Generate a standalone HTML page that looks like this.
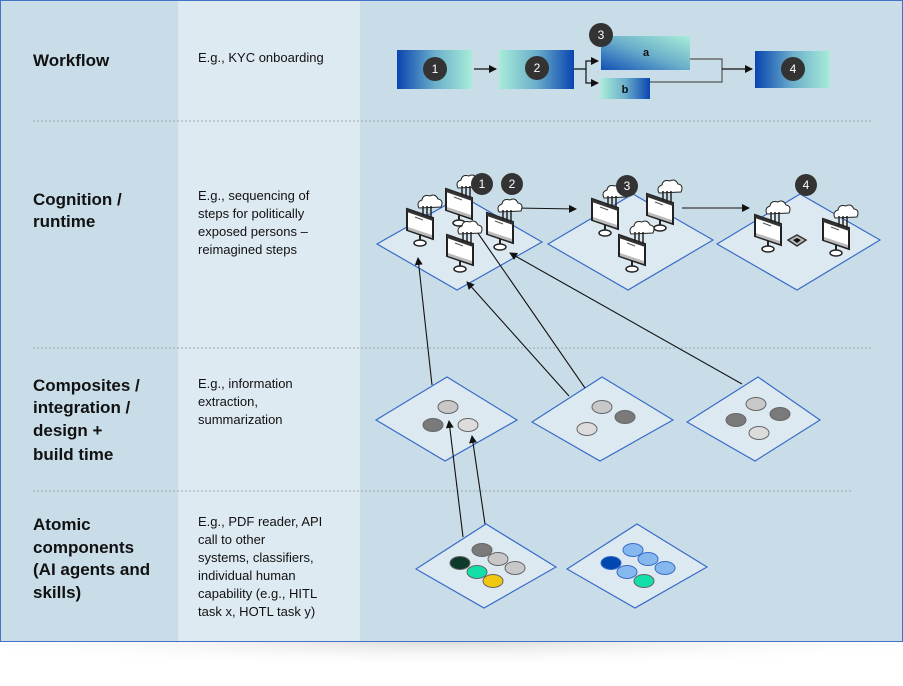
<!DOCTYPE html>
<html><head><meta charset="utf-8"><style>
html,body{margin:0;padding:0;background:#fff;}
svg{display:block;font-family:"Liberation Sans",Arial,sans-serif;}
</style></head><body>
<svg width="903" height="686" viewBox="0 0 903 686" xmlns="http://www.w3.org/2000/svg">
<defs>
<linearGradient id="gL" x1="0" x2="1" y1="0" y2="0"><stop offset="0" stop-color="#0a45b0"/><stop offset="0.5" stop-color="#6aaecb"/><stop offset="1" stop-color="#a8ecd8"/></linearGradient>
<linearGradient id="gR" x1="0" x2="1" y1="0" y2="0"><stop offset="0" stop-color="#a8ecd8"/><stop offset="0.5" stop-color="#6aaecb"/><stop offset="1" stop-color="#0a45b0"/></linearGradient>
<linearGradient id="gA" x1="0" x2="1" y1="1" y2="0"><stop offset="0" stop-color="#1050b5"/><stop offset="0.5" stop-color="#6aaecb"/><stop offset="1" stop-color="#a8ecd8"/></linearGradient>
<radialGradient id="sh" cx="0.5" cy="0" r="0.6"><stop offset="0" stop-color="#d8d8d8"/><stop offset="1" stop-color="#fff" stop-opacity="0"/></radialGradient>
<marker id="ar" markerWidth="8" markerHeight="8" refX="7" refY="4" orient="auto" markerUnits="userSpaceOnUse"><path d="M0,0 L8,4 L0,8 z" fill="#111"/></marker>
<g id="mon">
  <path d="M-1,-14 q-3,-6 3,-8 q1,-6 8,-4 q5,-3 8,3 q6,1 3,8 z" fill="#fff" stroke="#222" stroke-width="1"/>
  <path d="M-13,-13 L13,-4 L13,17 L-13,8 z" fill="#fff" stroke="#222" stroke-width="2"/>
  <path d="M-13,-13 L13,-4 L13,-1 L-13,-10 z" fill="#333"/>
  <path d="M-12,5 L12,13 L12,16 L-12,8 z" fill="#bbb"/>
  <line x1="3" y1="-16" x2="3" y2="-6" stroke="#222" stroke-width="1.5"/>
  <line x1="7" y1="-16" x2="7" y2="-5" stroke="#222" stroke-width="1.5"/>
  <line x1="11" y1="-16" x2="11" y2="-4" stroke="#222" stroke-width="1.5"/>
  <line x1="-5" y1="-5" x2="3" y2="-2" stroke="#555" stroke-width="1"/>
  <line x1="0" y1="13" x2="0" y2="19" stroke="#222" stroke-width="2"/>
  <ellipse cx="0" cy="21" rx="6" ry="3" fill="#fff" stroke="#222" stroke-width="1.5"/>
</g>
</defs>
<rect x="0" y="640" width="903" height="46" fill="url(#sh)"/>
<rect x="0.5" y="0.5" width="902" height="641" fill="#c9dde8" stroke="#4472c4"/>
<rect x="178" y="1" width="182" height="640" fill="#deeaf2"/>
<g stroke="#9aa6ae" stroke-width="1" stroke-dasharray="2,2">
<line x1="33" y1="121" x2="872" y2="121"/><line x1="33" y1="348" x2="872" y2="348"/><line x1="33" y1="491" x2="852" y2="491"/>
</g>
<g font-size="17" font-weight="bold" fill="#111">
<text x="33" y="66">Workflow</text>
<text x="33" y="205">Cognition /</text><text x="33" y="227">runtime</text>
<text x="33" y="391">Composites /</text><text x="33" y="413">integration /</text><text x="33" y="436">design +</text><text x="33" y="460">build time</text>
<text x="33" y="530">Atomic</text><text x="33" y="553">components</text><text x="33" y="575">(AI agents and</text><text x="33" y="598">skills)</text>
</g>
<g font-size="13" fill="#111">
<text x="198" y="62">E.g., KYC onboarding</text>
<text x="198" y="200">E.g., sequencing of</text><text x="198" y="218">steps for politically</text><text x="198" y="236">exposed persons –</text><text x="198" y="254">reimagined steps</text>
<text x="198" y="388">E.g., information</text><text x="198" y="406">extraction,</text><text x="198" y="424">summarization</text>
<text x="198" y="526">E.g., PDF reader, API</text><text x="198" y="544">call to other</text><text x="198" y="562">systems, classifiers,</text><text x="198" y="580">individual human</text><text x="198" y="598">capability (e.g., HITL</text><text x="198" y="616">task x, HOTL task y)</text>
</g>
<!-- workflow -->
<rect x="397" y="50" width="75" height="39" fill="url(#gL)"/>
<rect x="499" y="50" width="75" height="39" fill="url(#gR)"/>
<rect x="601" y="36" width="89" height="34" fill="url(#gA)"/>
<rect x="601" y="78" width="49" height="21" fill="url(#gR)"/>
<rect x="755" y="51" width="75" height="37" fill="url(#gL)"/>
<g stroke="#111" stroke-width="1.2" fill="none">
<line x1="474" y1="69" x2="496" y2="69" marker-end="url(#ar)"/>
<polyline points="574,69 586,69 586,61 598,61" marker-end="url(#ar)"/>
<polyline points="586,69 586,83 598,83" marker-end="url(#ar)"/>
<polyline points="690,59 722,59 722,82 650,82" stroke="#555"/>
<line x1="722" y1="69" x2="752" y2="69" marker-end="url(#ar)"/>
</g>
<g fill="#333"><circle cx="435" cy="69" r="12"/><circle cx="537" cy="68" r="12"/><circle cx="601" cy="35" r="12"/><circle cx="793" cy="69" r="12"/></g>
<g fill="#fff" font-size="12" text-anchor="middle"><text x="435" y="73">1</text><text x="537" y="72">2</text><text x="601" y="39">3</text><text x="793" y="73">4</text></g>
<g font-size="11" font-weight="bold" fill="#111" text-anchor="middle"><text x="646" y="56">a</text><text x="625" y="93">b</text></g>
<!-- diamonds -->
<g fill="#dce9f1" stroke="#3a6cc8" stroke-width="1.2">
<polygon points="377,244 462,196 542,242 457,290"/>
<polygon points="548,244 633,194 713,240 628,290"/>
<polygon points="717,244 800,194 880,240 797,290"/>
<polygon points="376,420 447,377 517,420 445,461"/>
<polygon points="532,422 602,377 673,420 600,461"/>
<polygon points="687,422 758,377 820,420 755,461"/>
<polygon points="416,569 486,524 556,567 484,608"/>
<polygon points="567,569 637,524 707,567 635,608"/>
</g>
<!-- arrows -->
<g stroke="#111" stroke-width="1.1" fill="none">
<line x1="516" y1="208" x2="576" y2="209" marker-end="url(#ar)"/>
<line x1="682" y1="208" x2="749" y2="208" marker-end="url(#ar)"/>
<line x1="432" y1="385" x2="418" y2="258" marker-end="url(#ar)"/>
<line x1="569" y1="396" x2="467" y2="282" marker-end="url(#ar)"/>
<line x1="585" y1="388" x2="473" y2="226" marker-end="url(#ar)"/>
<line x1="742" y1="384" x2="510" y2="253" marker-end="url(#ar)"/>
<line x1="463" y1="537" x2="449" y2="421" marker-end="url(#ar)"/>
<line x1="485" y1="524" x2="472" y2="436" marker-end="url(#ar)"/>
</g>
<!-- monitors -->
<use href="#mon" x="420" y="222"/>
<use href="#mon" x="459" y="202"/>
<use href="#mon" x="500" y="226"/>
<use href="#mon" x="460" y="248"/>
<use href="#mon" x="605" y="212"/>
<use href="#mon" x="660" y="207"/>
<use href="#mon" x="632" y="248"/>
<use href="#mon" x="768" y="228"/>
<use href="#mon" x="836" y="232"/>
<path d="M788,240 L797,235 L806,240 L797,246 z" fill="#bbb" stroke="#333" stroke-width="1.5"/>
<path d="M793,240 L797,238 L801,240 L797,243 z" fill="#111"/>
<g fill="#333"><circle cx="482" cy="184" r="11"/><circle cx="512" cy="184" r="11"/><circle cx="627" cy="186" r="11"/><circle cx="806" cy="185" r="11"/></g>
<g fill="#fff" font-size="12" text-anchor="middle"><text x="482" y="188">1</text><text x="512" y="188">2</text><text x="627" y="190">3</text><text x="806" y="189">4</text></g>
<!-- circles -->
<g stroke="#666" stroke-width="1">
<ellipse cx="448" cy="407" rx="10" ry="6.5" fill="#c8c8c8"/><ellipse cx="433" cy="425" rx="10" ry="6.5" fill="#7a7a7a"/><ellipse cx="468" cy="425" rx="10" ry="6.5" fill="#dcdcdc"/>
<ellipse cx="602" cy="407" rx="10" ry="6.5" fill="#c8c8c8"/><ellipse cx="625" cy="417" rx="10" ry="6.5" fill="#7a7a7a"/><ellipse cx="587" cy="429" rx="10" ry="6.5" fill="#dcdcdc"/>
<ellipse cx="756" cy="404" rx="10" ry="6.5" fill="#c8c8c8"/><ellipse cx="780" cy="414" rx="10" ry="6.5" fill="#7a7a7a"/><ellipse cx="736" cy="420" rx="10" ry="6.5" fill="#7a7a7a"/><ellipse cx="759" cy="433" rx="10" ry="6.5" fill="#dcdcdc"/>
<ellipse cx="482" cy="550" rx="10" ry="6.5" fill="#7a7a7a"/><ellipse cx="498" cy="559" rx="10" ry="6.5" fill="#c8c8c8"/><ellipse cx="515" cy="568" rx="10" ry="6.5" fill="#c8c8c8"/><ellipse cx="460" cy="563" rx="10" ry="6.5" fill="#0d3a2a"/><ellipse cx="477" cy="572" rx="10" ry="6.5" fill="#12e0a8"/><ellipse cx="493" cy="581" rx="10" ry="6.5" fill="#f0c810"/>
</g>
<g stroke="#3a6cc8" stroke-width="1">
<ellipse cx="633" cy="550" rx="10" ry="6.5" fill="#85b8ee"/><ellipse cx="648" cy="559" rx="10" ry="6.5" fill="#85b8ee"/><ellipse cx="665" cy="568" rx="10" ry="6.5" fill="#85b8ee"/><ellipse cx="611" cy="563" rx="10" ry="6.5" fill="#0047b0"/><ellipse cx="627" cy="572" rx="10" ry="6.5" fill="#85b8ee"/><ellipse cx="644" cy="581" rx="10" ry="6.5" fill="#12e0a8" stroke="#666"/>
</g>
</svg>
</body></html>
